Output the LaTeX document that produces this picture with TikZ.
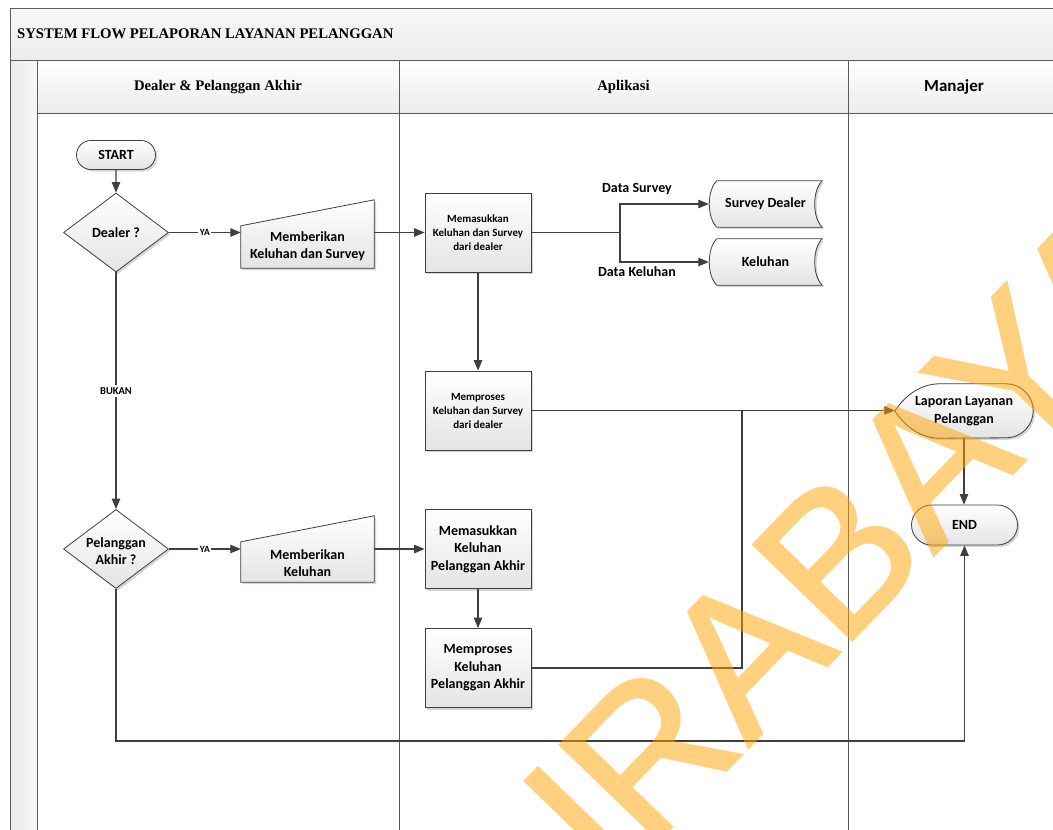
\documentclass[tikz,border=0pt]{standalone}
\usepackage{fontspec}
\setmainfont{Liberation Serif}
\newfontfamily\carl{Carlito}
\newfontfamily\wmark[FakeBold=1.2]{Liberation Sans}
\usetikzlibrary{shapes.geometric,shapes.misc,shadows,calc,arrows.meta}
\definecolor{ln}{HTML}{3F3F3F}
\definecolor{frame}{HTML}{5A5A5A}
\definecolor{boxlo}{HTML}{E4E4E4}
\definecolor{hdrlo}{HTML}{ECECEC}
\definecolor{wmorange}{RGB}{255,165,0}
\tikzset{
  flow/.style={draw=ln, line width=1.1pt},
  arr/.style={flow, -{Triangle[length=10.5pt,width=8.5pt]}},
  shaded/.style={top color=white, bottom color=boxlo, draw=ln, line width=0.8pt,
    drop shadow={shadow xshift=2pt, shadow yshift=-2pt, fill=black!40, opacity=0.4}},
  bigtxt/.style={font=\carl\bfseries\fontsize{14}{17.5}\selectfont, align=center, inner sep=0pt},
  smalltxt/.style={font=\carl\bfseries\fontsize{11}{14}\selectfont, align=center, inner sep=0pt},
  procbox/.style={shaded, rectangle, minimum width=106pt, minimum height=79pt, inner sep=0pt},
  termbox/.style={shaded, rounded rectangle, inner sep=0pt, bigtxt},
  decbox/.style={shaded, diamond, minimum width=105pt, minimum height=79pt, inner sep=0pt},
  slot/.style={rectangle, inner sep=0pt},
  edgetag/.style={fill=white, inner sep=1.5pt, font=\carl\bfseries\fontsize{9.5}{10}\selectfont},
  datatag/.style={inner sep=0pt, font=\carl\bfseries\fontsize{14}{17}\selectfont},
  lanehdr/.style={top color=white, bottom color=hdrlo, draw=frame, line width=1pt},
  lanetitle/.style={font=\bfseries\fontsize{14.7}{17}\selectfont, inner sep=0pt},
}
\begin{document}
\begin{tikzpicture}[x=1pt,y=-1pt]
\useasboundingbox (0,0) rectangle (1053,830);
\clip (0,0) rectangle (1053,830);
\fill[white] (0,0) rectangle (1053,830);

% pool and lanes
\path[top color=black!3, bottom color=hdrlo, draw=frame, line width=1pt] (10,8) rectangle (1070,60);
\node[lanetitle, anchor=west] (pooltitle) at (17,34) {SYSTEM FLOW PELAPORAN LAYANAN PELANGGAN};
\path[left color=black!8, right color=black!3, draw=frame, line width=1pt] (10,60) rectangle (37,850);
\path[lanehdr] (37,60) rectangle (399,113);
\path[lanehdr] (399,60) rectangle (848,113);
\path[lanehdr] (848,60) rectangle (1070,113);
\draw[frame, line width=1pt] (399,113) -- (399,850) (848,113) -- (848,850) (1070,113) -- (1070,850);
\node[lanetitle] (lane1) at (218,87) {Dealer \& Pelanggan Akhir};
\node[lanetitle] (lane2) at (623.5,87) {Aplikasi};
\node[font=\carl\bfseries\fontsize{17}{20}\selectfont, inner sep=0pt] (lane3) at (954,87) {Manajer};

% dealer branch
\node[termbox, minimum width=79pt, minimum height=29pt] (start) at (116,155) {START};
\node[decbox] (d1) at (116,232.5) {};
\node[bigtxt] (d1t) at (d1) {Dealer ?};
\node[slot, minimum width=133pt, minimum height=68pt] (mi1) at (307.5,234) {};
\path[shaded] (mi1.south west) -- (mi1.south east) -- (mi1.north east) -- ($(mi1.north west)+(0,26)$) -- cycle;
\node[bigtxt] (mi1t) at (307.5,246) {Memberikan\\Keluhan dan Survey};
\node[procbox, smalltxt] (p1) at (478,232.5) {Memasukkan\\Keluhan dan Survey\\dari dealer};

% stored data
\node[slot, minimum width=113pt, minimum height=46pt] (sd) at (765.5,204) {};
\path[shaded] ($(sd.north west)+(8,0)$) -- (sd.north east)
  .. controls ($(sd.east)+(-10,-14)$) and ($(sd.east)+(-10,14)$) .. (sd.south east)
  -- ($(sd.south west)+(8,0)$)
  .. controls ($(sd.west)+(-2,14)$) and ($(sd.west)+(-2,-14)$) .. ($(sd.north west)+(8,0)$) -- cycle;
\node[bigtxt] (sdt) at (sd) {Survey Dealer};
\node[slot, minimum width=113pt, minimum height=46pt] (kl) at (765.5,262) {};
\path[shaded] ($(kl.north west)+(8,0)$) -- (kl.north east)
  .. controls ($(kl.east)+(-10,-14)$) and ($(kl.east)+(-10,14)$) .. (kl.south east)
  -- ($(kl.south west)+(8,0)$)
  .. controls ($(kl.west)+(-2,14)$) and ($(kl.west)+(-2,-14)$) .. ($(kl.north west)+(8,0)$) -- cycle;
\node[bigtxt] (klt) at (kl) {Keluhan};

\node[procbox, smalltxt] (p2) at (478,410.5) {Memproses\\Keluhan dan Survey\\dari dealer};

% report display
\node[slot, minimum width=138pt, minimum height=54pt] (lap) at (964,411) {};
\path[shaded] (lap.west) .. controls ($(lap.west)+(12,-18)$) and ($(lap.north west)+(28,0)$) .. ($(lap.north west)+(45,0)$)
  -- ($(lap.north east)+(-27,0)$) arc[start angle=-90, end angle=90, x radius=27, y radius=27]
  -- ($(lap.south west)+(45,0)$) .. controls ($(lap.south west)+(28,0)$) and ($(lap.west)+(12,18)$) .. (lap.west) -- cycle;
\node[bigtxt] (lapt) at (lap) {Laporan Layanan\\Pelanggan};
\node[termbox, minimum width=106pt, minimum height=40pt] (fin) at (964.5,525) {END};

% end customer branch
\node[decbox] (d2) at (116,549) {};
\node[bigtxt, font=\carl\bfseries\fontsize{14}{16.5}\selectfont] (d2t) at (116,551) {Pelanggan\\Akhir ?};
\node[slot, minimum width=133pt, minimum height=66pt] (mi2) at (307.5,549) {};
\path[shaded] (mi2.south west) -- (mi2.south east) -- (mi2.north east) -- ($(mi2.north west)+(0,26)$) -- cycle;
\node[bigtxt] (mi2t) at (307.5,563) {Memberikan\\Keluhan};
\node[procbox, bigtxt] (p3) at (478,549) {Memasukkan\\Keluhan\\Pelanggan Akhir};
\node[procbox, bigtxt] (p4) at (478,668) {Memproses\\Keluhan\\Pelanggan Akhir};

% connectors
\draw[arr] (start) -- (d1);
\draw[arr] (d1.east) -- node[edgetag] (ya1) {YA} (d1.east -| mi1.west);
\draw[arr] (p1.west -| mi1.east) -- (p1.west);
\coordinate (fork) at (620,232.5);
\draw[flow] (p1.east) -- (fork);
\draw[arr] (fork) |- (sd.west);
\draw[arr] (fork) |- (kl.west);
\node[datatag] (dsv) at (637,189) {Data Survey};
\node[datatag] (dkl) at (637,272) {Data Keluhan};
\draw[arr] (p1) -- (p2);
\draw[arr] (p2.east) -- (p2.east -| lap.west);
\draw[arr] (d1) -- node[edgetag, inner sep=2.5pt, font=\carl\bfseries\fontsize{10.5}{11}\selectfont] (bukan) {BUKAN} (d2);
\draw[arr] (d2.east) -- node[edgetag] (ya2) {YA} (d2.east -| mi2.west);
\draw[arr] (p3.west -| mi2.east) -- (p3.west);
\draw[arr] (p3) -- (p4);
\coordinate (merge) at (742,411);
\draw[flow] (p4.east) -| (merge);
\draw[arr] (lap.south) -- (lap.south |- fin.north);
\coordinate (floor) at (116,741);
\draw[arr] (d2.south) -- (floor) -| (fin.south);

% watermark
\begin{scope}[transparency group, opacity=0.5,
  every node/.style={text=wmorange, font=\wmark\fontsize{200}{200}\selectfont, inner sep=0pt, rotate=46}]
\node[anchor=base east] (wm1) at (748,748) {SUR};
\node[anchor=base west] (wm2) at (748,748) {ABAYA};
\end{scope}
\end{tikzpicture}
\end{document}
